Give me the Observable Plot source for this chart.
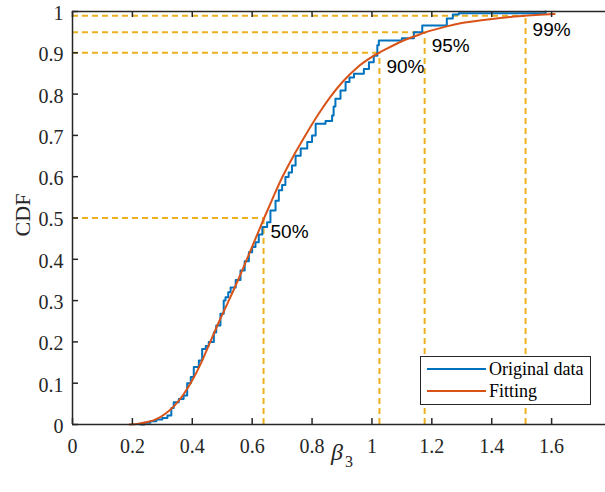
<!DOCTYPE html>
<html><head><meta charset="utf-8">
<script src="https://cdn.jsdelivr.net/npm/d3@7"></script>
<script src="https://cdn.jsdelivr.net/npm/@observablehq/plot@0.6"></script>
<style>
html,body{margin:0;padding:0;background:#fff;overflow:hidden;}
#wrap{position:relative;width:605px;height:492px;}
#legend{position:absolute;left:420px;top:356px;width:171px;height:49px;box-sizing:border-box;border:1.5px solid #262626;background:#fff;font-family:"Liberation Serif",serif;font-size:18px;color:#000;}
#legend .row{position:absolute;left:0;height:22px;line-height:22px;white-space:nowrap;}
#legend svg{position:absolute;left:5px;top:0;}
#legend span{position:absolute;left:68px;top:0;}
</style>
</head><body>
<div id="wrap"><div id="chart"></div>
<div id="legend">
  <div class="row" style="top:1px"><svg width="62" height="22"><line x1="1" x2="60" y1="11" y2="11" stroke="#0072BD" stroke-width="2"/></svg><span>Original data</span></div>
  <div class="row" style="top:23px"><svg width="62" height="22"><line x1="1" x2="60" y1="11" y2="11" stroke="#D95319" stroke-width="2"/></svg><span>Fitting</span></div>
</div>
</div>
<script>
// Axis ticks
const xTicks = [0, 0.2, 0.4, 0.6, 0.8, 1, 1.2, 1.4, 1.6];
const yTicks = [0, 0.1, 0.2, 0.3, 0.4, 0.5, 0.6, 0.7, 0.8, 0.9, 1];

// Fitted CDF
const fitX = [0.19, 0.22, 0.25, 0.28, 0.31, 0.34, 0.37, 0.40, 0.43, 0.46, 0.49, 0.52, 0.55, 0.58, 0.61, 0.64, 0.67, 0.70, 0.74, 0.78, 0.82, 0.86, 0.90, 0.95, 1.00, 1.05, 1.10, 1.15, 1.18, 1.25, 1.30, 1.40, 1.50, 1.61];
const fitY = [0, 0.002, 0.006, 0.013, 0.026, 0.045, 0.072, 0.107, 0.15, 0.20, 0.25, 0.297, 0.345, 0.396, 0.448, 0.50, 0.55, 0.598, 0.653, 0.703, 0.75, 0.792, 0.828, 0.864, 0.89, 0.91, 0.928, 0.942, 0.95, 0.964, 0.972, 0.982, 0.989, 0.994];

const empX = [0.227, 0.24, 0.26, 0.28, 0.30, 0.317, 0.33, 0.338, 0.355, 0.371, 0.383, 0.395, 0.405, 0.422, 0.433, 0.445, 0.455, 0.472, 0.48, 0.494, 0.505, 0.511, 0.52, 0.528, 0.545, 0.561, 0.575, 0.589, 0.60, 0.611, 0.622, 0.634, 0.65, 0.661, 0.678, 0.689, 0.70, 0.711, 0.722, 0.733, 0.745, 0.762, 0.784, 0.80, 0.812, 0.845, 0.867, 0.872, 0.878, 0.895, 0.912, 0.925, 0.94, 0.973, 0.99, 1.006, 1.018, 1.023, 1.10, 1.14, 1.168, 1.25, 1.27, 1.29, 1.58];
const empY = [0, 0.004, 0.008, 0.012, 0.016, 0.022, 0.04, 0.054, 0.062, 0.07, 0.10, 0.115, 0.139, 0.155, 0.183, 0.19, 0.20, 0.223, 0.24, 0.268, 0.30, 0.308, 0.32, 0.332, 0.35, 0.373, 0.395, 0.417, 0.43, 0.441, 0.46, 0.478, 0.49, 0.518, 0.542, 0.567, 0.58, 0.599, 0.61, 0.627, 0.651, 0.668, 0.684, 0.70, 0.728, 0.735, 0.748, 0.77, 0.789, 0.809, 0.829, 0.84, 0.849, 0.861, 0.877, 0.893, 0.918, 0.93, 0.935, 0.95, 0.966, 0.983, 0.993, 0.996, 1.0];

// Percentile markers
const qLevels = [0.5, 0.9, 0.95, 0.99];
const qValues = [0.638, 1.025, 1.176, 1.513];
const qLabels = ["50%", "90%", "95%", "99%"];

const fit = fitX.map((x, i) => ({x, y: fitY[i]}));
const emp = empX.map((x, i) => ({x, y: empY[i]}));
const quants = qLevels.map((q, i) => ({q, x: qValues[i], label: qLabels[i]}));

const axisColor = "#262626";
const dash = {stroke: "#EDB120", strokeWidth: 2, strokeDasharray: "6,4"};

const chart = Plot.plot({
  width: 605, height: 492,
  marginLeft: 72, marginRight: 0, marginTop: 11, marginBottom: 68,
  x: {domain: [0, 1.8], range: [72, 611]},
  y: {domain: [0, 1]},
  style: {fontFamily: "Liberation Serif", fontSize: "20px", color: axisColor, background: "white"},
  marks: [
    Plot.ruleY(quants, {y: "q", x1: 0, x2: "x", ...dash}),
    Plot.ruleX(quants, {x: "x", y1: 0, y2: "q", ...dash}),
    Plot.line(emp, {x: "x", y: "y", curve: "step-after", stroke: "#0072BD", strokeWidth: 2}),
    Plot.line(fit, {x: "x", y: "y", curve: "monotone-x", stroke: "#D95319", strokeWidth: 2}),
    Plot.text(quants, {x: "x", y: "q", text: "label", textAnchor: "start", dx: 7, dy: 14, fontFamily: "Liberation Sans", fontSize: 19, fill: "black"}),
    Plot.axisX({ticks: xTicks, tickSize: 0, tickPadding: 14, tickFormat: d => String(d), label: null, fill: axisColor}),
    Plot.axisY({ticks: yTicks, tickSize: 0, tickPadding: 9, dy: 2, tickFormat: d => String(d), label: null, fill: axisColor}),
    Plot.tickX(xTicks, {x: d => d, insetTop: 407, stroke: axisColor, strokeWidth: 1.5}),
    Plot.tickX(xTicks, {x: d => d, insetBottom: 407, stroke: axisColor, strokeWidth: 1.5}),
    Plot.tickY(yTicks, {y: d => d, insetRight: 527, stroke: axisColor, strokeWidth: 1.5}),
    Plot.ruleX([0, 1.8], {stroke: axisColor, strokeWidth: 1.5}),
    Plot.ruleY([0, 1], {stroke: axisColor, strokeWidth: 1.5}),
    Plot.text([{x: 0.9}], {x: "x", text: () => "β", frameAnchor: "bottom", dx: -5, dy: 35, fontStyle: "italic", fontSize: 24, fill: axisColor}),
    Plot.text([{x: 0.9}], {x: "x", text: () => "3", frameAnchor: "bottom", dx: 7, dy: 42, fontSize: 16, fill: axisColor}),
    Plot.text([{}], {text: () => "CDF", frameAnchor: "left", textAnchor: "middle", rotate: -90, dx: -50, dy: -3, fontSize: 22, fill: axisColor})
  ]
});
document.getElementById("chart").appendChild(chart);
</script>
</body></html>
